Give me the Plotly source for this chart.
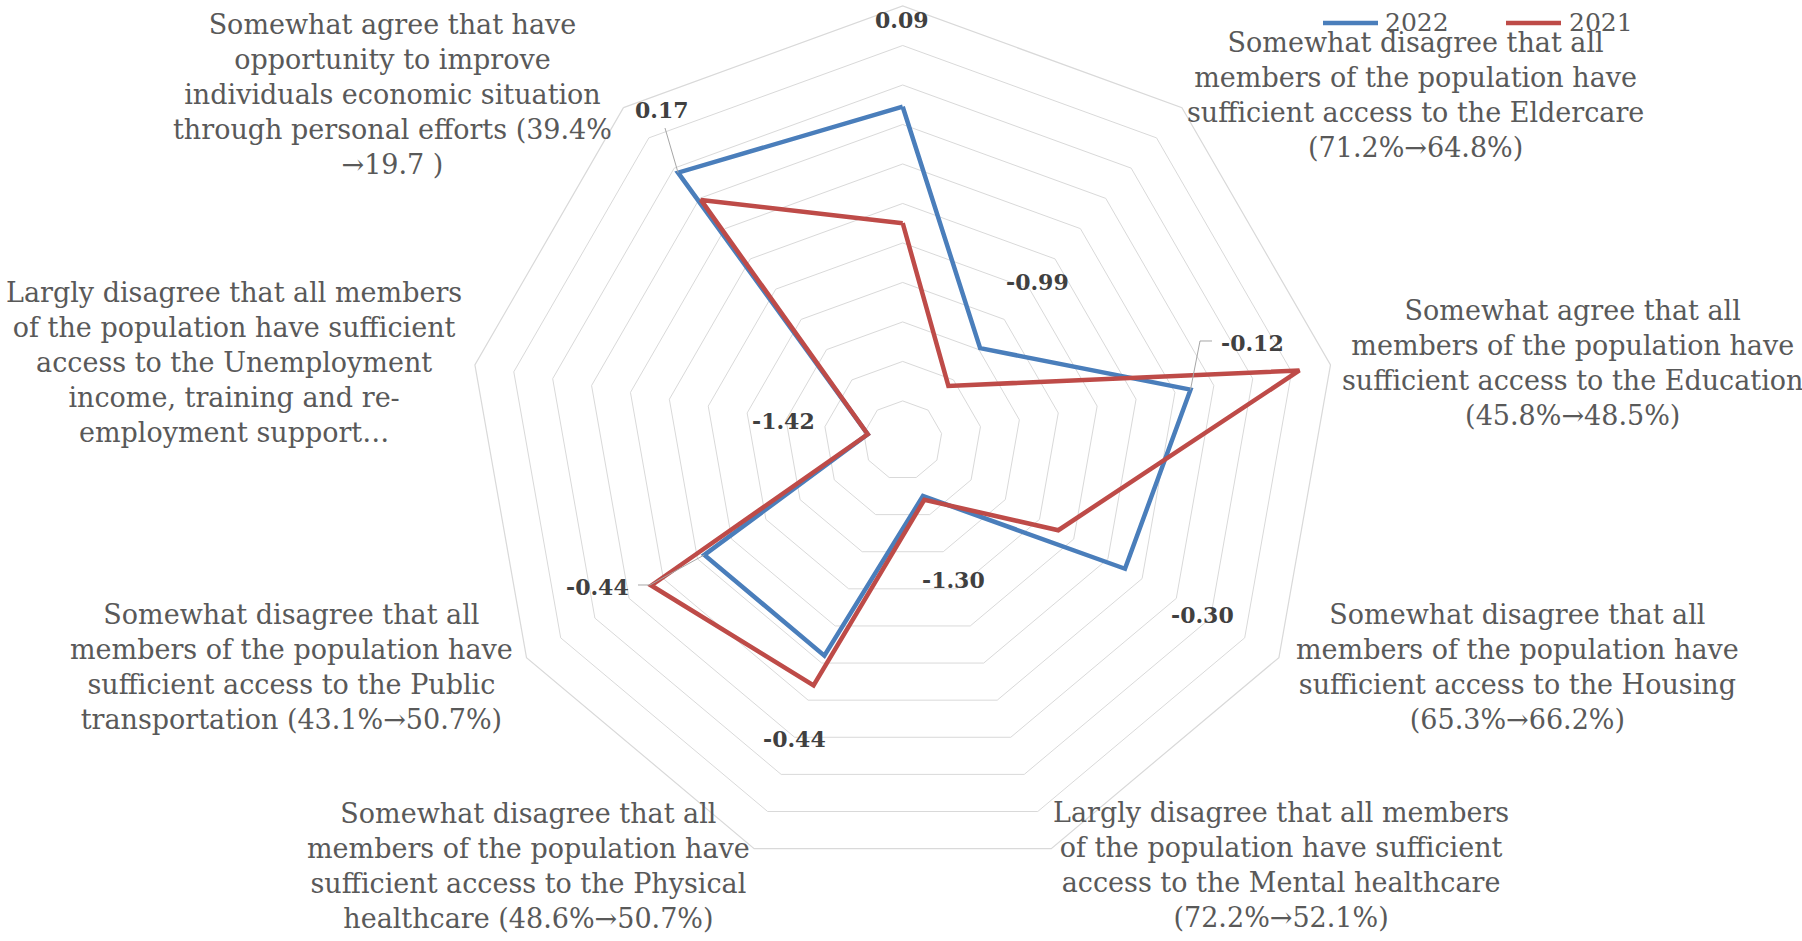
import math
import plotly.graph_objects as go

W, H = 1802, 941

# Category keys (clockwise from the top spoke) and their wrapped labels
categories = [
    " ",
    "Eldercare",
    "Education",
    "Housing",
    "Mental healthcare",
    "Physical healthcare",
    "Public transportation",
    "Unemployment support",
    "Economic opportunity",
]
category_labels = [
    "",
    "Somewhat disagree that all<br>members of the population have<br>sufficient access to the Eldercare<br>(71.2%→64.8%)",
    "Somewhat agree that all<br>members of the population have<br>sufficient access to the Education<br>(45.8%→48.5%)",
    "Somewhat disagree that all<br>members of the population have<br>sufficient access to the Housing<br>(65.3%→66.2%)",
    "Largly disagree that all members<br>of the population have sufficient<br>access to the Mental healthcare<br>(72.2%→52.1%)",
    "Somewhat disagree that all<br>members of the population have<br>sufficient access to the Physical<br>healthcare (48.6%→50.7%)",
    "Somewhat disagree that all<br>members of the population have<br>sufficient access to the Public<br>transportation (43.1%→50.7%)",
    "Largly disagree that all members<br>of the population have sufficient<br>access to the Unemployment<br>income, training and re-<br>employment support…",
    "Somewhat agree that have<br>opportunity to improve<br>individuals economic situation<br>through personal efforts (39.4%<br>→19.7 )",
]

series_names = ["2022", "2021"]
values_2022 = [0.09, -0.99, -0.12, -0.30, -1.30, -0.44, -0.44, -1.42, 0.17]
values_2021 = [-0.50, -1.24, 0.44, -0.69, -1.28, -0.28, -0.13, -1.42, -0.01]

# Radial axis
RMIN, RMAX, RSTEP = -1.6, 0.6, 0.2

# Layout geometry (pixels)
CX, CY, R = 902.7, 440.4, 434.4
SERIF = "DejaVu Serif"
TEXT_GREY = "#595959"
VALUE_GREY = "#404040"
GRID = "#d9d9d9"
BLUE = "#4A7EBB"
RED = "#BE4B48"
LINE_W = 4.5

# Where each category label block is centred
label_pos = [None, (1415, 95), (1572, 363), (1517, 667), (1281, 865),
             (528, 866), (291, 667), (234, 362), (392, 95)]
# Where each 2022 value label is centred
value_pos = [(902, 20), (1037, 282), (1252, 343), (1202, 615), (953, 580),
             (794, 739), (597, 587), (783, 421), (662, 110)]
# Leader lines (label side points) for the value labels that were moved
leaders = {2: [(1212, 341), (1200, 341)], 8: [(665, 128)], 6: [(638, 585), (650, 585)]}
# Legend entries: swatch start/end x, text x, shared y
legend_layout = [(1323, 1378, 1383), (1506, 1561, 1567)]
LEGEND_Y = 23


def point_px(i, v):
    ang = math.radians(90 - 360.0 / len(categories) * i)
    r = (v - RMIN) / (RMAX - RMIN) * R
    return CX + r * math.cos(ang), CY - r * math.sin(ang)


def px_to_paper(x, y):
    return x / W, 1 - y / H


fig = go.Figure()
for name, vals, color in zip(series_names, [values_2022, values_2021], [BLUE, RED]):
    fig.add_trace(go.Scatterpolar(
        r=vals + vals[:1],
        theta=categories + categories[:1],
        mode="lines",
        name=name,
        line=dict(color=color, width=LINE_W),
        hoverinfo="skip",
        showlegend=False,
    ))

annotations = []
shapes = []

for lbl, pos in zip(category_labels, label_pos):
    if not lbl:
        continue
    px, py = px_to_paper(*pos)
    annotations.append(dict(
        text=lbl, x=px, y=py, xref="paper", yref="paper",
        xanchor="center", yanchor="middle", align="center", showarrow=False,
        font=dict(family=SERIF, size=27, color=TEXT_GREY),
    ))

for v, pos in zip(values_2022, value_pos):
    px, py = px_to_paper(*pos)
    annotations.append(dict(
        text="<b>%.2f</b>" % v, x=px, y=py, xref="paper", yref="paper",
        xanchor="center", yanchor="middle", showarrow=False,
        font=dict(family=SERIF, size=22, color=VALUE_GREY),
    ))

for i, pts in leaders.items():
    path_pts = pts + [point_px(i, values_2022[i])]
    path = "M " + " L ".join("%f,%f" % px_to_paper(x, y) for x, y in path_pts)
    shapes.append(dict(type="path", path=path, xref="paper", yref="paper",
                       line=dict(color="#a6a6a6", width=1)))

# Series key along the top edge
for name, color, (xs, xe, xt) in zip(series_names, [BLUE, RED], legend_layout):
    (ax0, ay), (ax1, _) = px_to_paper(xs, LEGEND_Y), px_to_paper(xe, LEGEND_Y)
    shapes.append(dict(type="line", xref="paper", yref="paper",
                       x0=ax0, x1=ax1, y0=ay, y1=ay,
                       line=dict(color=color, width=LINE_W)))
    tx, ty = px_to_paper(xt, LEGEND_Y)
    annotations.append(dict(
        text=name, x=tx, y=ty, xref="paper", yref="paper",
        xanchor="left", yanchor="middle", showarrow=False,
        font=dict(family=SERIF, size=25, color=TEXT_GREY),
    ))

x0, x1 = (CX - R) / W, (CX + R) / W
y0, y1 = (H - CY - R) / H, (H - CY + R) / H

fig.update_layout(
    width=W, height=H, autosize=False,
    margin=dict(l=0, r=0, t=0, b=0),
    paper_bgcolor="white",
    polar=dict(
        domain=dict(x=[x0, x1], y=[y0, y1]),
        gridshape="linear",
        bgcolor="white",
        radialaxis=dict(
            range=[RMIN, RMAX], tick0=RMIN, dtick=RSTEP,
            showticklabels=False, ticks="", showline=False,
            gridcolor=GRID, gridwidth=1.2, angle=90,
        ),
        angularaxis=dict(
            type="category", categoryorder="array", categoryarray=categories,
            rotation=90, direction="clockwise",
            showgrid=False, showticklabels=False, ticks="",
            showline=True, linecolor=GRID, linewidth=1.2,
        ),
    ),
    showlegend=False,
    annotations=annotations,
    shapes=shapes,
)

fig.write_html("out.html")
